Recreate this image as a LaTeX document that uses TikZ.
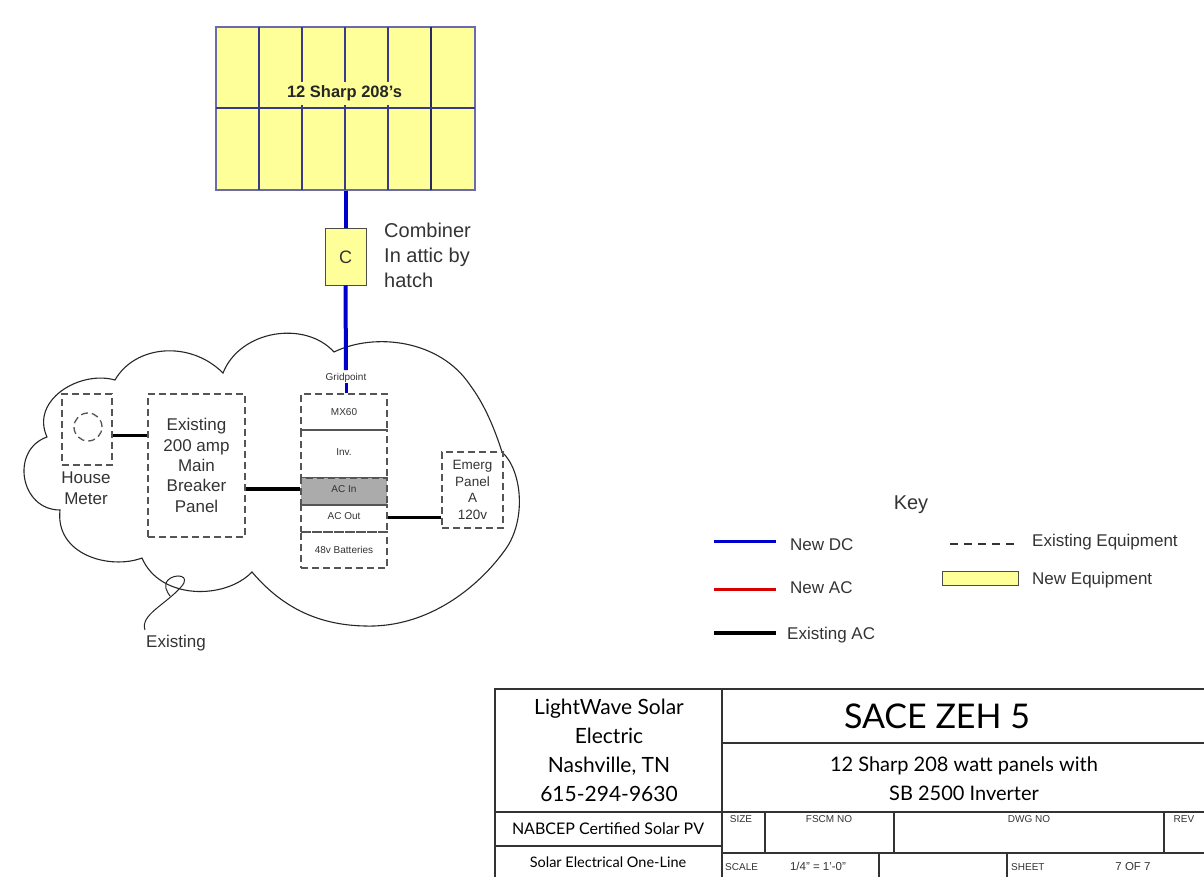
\documentclass[tikz,border=0pt]{standalone}
\usepackage{fontspec}
\setmainfont{Liberation Sans}
\newfontfamily\pap{Lato}
\definecolor{panelyellow}{HTML}{FFFF99}
\definecolor{paneledge}{HTML}{3A3A8C}
\definecolor{paneloutline}{HTML}{6A6AAE}
\definecolor{dc}{HTML}{0000CC}
\definecolor{dashcol}{HTML}{555555}
\definecolor{tcol}{HTML}{333333}
\tikzset{
 newbox/.style={draw=paneloutline,fill=panelyellow,line width=1.5pt,inner sep=0pt},
 exbox/.style={draw=dashcol,dash pattern=on 7pt off 4pt,line width=1.3pt,inner sep=0pt,align=center,text=tcol},
 stackbox/.style={exbox,minimum width=86pt,font=\fontsize{10}{12}\selectfont},
 lab/.style={inner sep=0pt,align=center,text=tcol,font=\fontsize{17}{21}\selectfont},
 keytxt/.style={inner sep=0pt,anchor=west,text=tcol,font=\fontsize{17}{20}\selectfont},
 dcw/.style={draw=dc,line width=4pt},
 acw/.style={draw=black,line width=3pt},
 tb/.style={draw=tcol,line width=1.1pt},
 pp/.style={inner sep=0pt,align=center,text=black},
 tiny/.style={inner sep=0pt,text=tcol,font=\fontsize{10}{12}\selectfont}
}
\begin{document}
\begin{tikzpicture}[x=1pt,y=-1pt]
\useasboundingbox (0,0) rectangle (1204,877);
% solar array
\node[newbox,minimum width=259pt,minimum height=163pt] (panels) at (345.5,108.5) {};
\foreach \x in {259,302,345,388} \draw[paneledge,line width=1.3pt] (\x,27)--(\x,190);
\draw[paneledge!70!black,line width=2.2pt] (431,27)--(431,190);
\draw[paneledge,line width=2pt] (216,108)--(475,108);
\node[inner sep=0pt,fill=panelyellow,minimum height=23pt,text=black!85,font=\bfseries\fontsize{16.5}{20}\selectfont] (arr) at (344.5,93.5) {12 Sharp 208's};
% combiner
\node[newbox,draw=black!70,line width=1pt,minimum width=41pt,minimum height=56pt,text=tcol,font=\fontsize{18}{22}\selectfont] (comb) at (345.5,257) {C};
\node[lab,align=left,anchor=west,font=\fontsize{20}{25}\selectfont] (combl) at (384,255) {Combiner\\In attic by\\hatch};
\draw[dcw] (panels.south)--(comb.north);
% cloud
\draw[draw=black!85,line width=1.1pt] (334,352)
 .. controls (375,332) and (440,340) .. (470,385)
 .. controls (485,405) and (495,430) .. (502,452)
 .. controls (522,470) and (527,520) .. (505,550)
 .. controls (480,585) and (430,628) .. (365,626)
 .. controls (315,625) and (280,605) .. (252,572)
 .. controls (225,600) and (160,600) .. (142,558)
 .. controls (110,570) and (55,555) .. (60,510)
 .. controls (20,510) and (10,450) .. (47,437)
 .. controls (30,400) and (80,370) .. (115,380)
 .. controls (135,345) and (190,340) .. (223,373)
 .. controls (240,330) and (305,320) .. (334,352);
% contents
\node[tiny] (grid) at (346,378) {Gridpoint};
\draw[dcw,shorten >=3pt] (comb.south)--(grid.north);
\node[exbox,minimum width=50pt,minimum height=71pt] (meter) at (87,429.5) {};
\node[exbox,circle,minimum size=28pt] (disc) at (88,427) {};
\node[lab] (meterl) at (86,488.5) {House\\Meter};
\node[exbox,minimum width=97pt,minimum height=143pt,font=\fontsize{17}{20.3}\selectfont] (main) at (196.5,465.5) {Existing\\200 amp\\Main\\Breaker\\Panel};
\node[stackbox,minimum height=36pt] (mx) at (344,412) {\raisebox{-4pt}{MX60}};
\node[stackbox,minimum height=48pt] (inv) at (344,454) {\raisebox{3pt}{Inv.}};
\node[stackbox,fill=black!33,minimum height=27pt,line width=2.2pt] (acin) at (344,491.5) {\raisebox{4pt}{AC In}};
\node[stackbox,minimum height=27pt] (acout) at (344,518.5) {\raisebox{4pt}{AC Out}};
\node[stackbox,minimum height=36pt] (batt) at (344,550) {48v Batteries};
\node[exbox,minimum width=61pt,minimum height=76pt,font=\fontsize{13.5}{16.5}\selectfont] (emerg) at (472.5,490) {Emerg\\Panel\\A\\120v};
\draw[dcw,line width=3pt] (grid.south)--(grid.south|-mx.north);
\draw[acw] (meter.east|-0,435)--(main.west|-0,435);
\draw[acw,line width=4pt] (main.east|-0,489)--(acin.west|-0,489);
\draw[acw] (acout.east|-0,517)--(emerg.west|-0,517);
% existing callout
\node[lab] (exl) at (176,643) {Existing};
\coordinate (cl) at (145,630);
\draw[black!85,line width=1pt] (cl) .. controls (140,615) and (165,605) .. (181,587)
 .. controls (192,575) and (175,573) .. (168,580)
 .. controls (163,585) and (167,592) .. (170,596);
% key
\node[inner sep=0pt,text=tcol,font=\fontsize{20}{24}\selectfont] (keyt) at (911,505) {Key};
\coordinate (k1a) at (714,541); \coordinate (k1b) at (776,541);
\coordinate (k2a) at (714,589); \coordinate (k2b) at (776,589);
\coordinate (k3a) at (714,633); \coordinate (k3b) at (776,633);
\coordinate (k4a) at (950,544); \coordinate (k4b) at (1018,544);
\draw[dcw,line width=3pt] (k1a)--(k1b);
\draw[draw=red!85!black,line width=3pt] (k2a)--(k2b);
\draw[acw,line width=3.5pt] (k3a)--(k3b);
\draw[black!80,line width=1.1pt,dash pattern=on 8pt off 6pt] (k4a)--(k4b);
\node[keytxt] at (790,545) {New DC};
\node[keytxt] at (790,588) {New AC};
\node[keytxt] at (787,635) {Existing AC};
\node[keytxt] at (1032,542) {Existing Equipment};
\node[newbox,draw=black!70,line width=1pt,minimum width=76pt,minimum height=14pt] (kbox) at (980,578) {};
\node[keytxt] at (1032,580) {New Equipment};
% title block
\draw[tb] (1204,689)--(495,689)--(495,877);
\draw[tb] (722,689)--(722,877);
\draw[tb] (722,743)--(1204,743);
\draw[tb] (495,812)--(1204,812);
\draw[tb,line width=1.5pt] (495,846)--(722,846);
\draw[tb] (722,853)--(1204,853);
\draw[tb] (765,812)--(765,853);
\draw[tb] (894,812)--(894,853);
\draw[tb] (1164,812)--(1164,853);
\draw[tb] (879,853)--(879,877);
\draw[tb] (1007,853)--(1007,877);
\node[pp,font=\pap\fontsize{21}{29}\selectfont] (co) at (609,750) {LightWave Solar\\Electric\\Nashville, TN\\615-294-9630};
\node[pp,font=\pap\fontsize{16}{20}\selectfont] (nab) at (608,829) {NABCEP Certified Solar PV};
\node[pp,font=\pap\fontsize{14.5}{18}\selectfont] (one) at (608,862) {Solar Electrical One-Line};
\node[pp,font=\pap\fontsize{34}{38}\selectfont] (title) at (937,716) {SACE ZEH 5};
\node[pp,font=\pap\fontsize{20}{29}\selectfont] (sub) at (964,779) {12 Sharp 208 watt panels with\\SB 2500 Inverter};
\node[tiny] at (741,819) {SIZE};
\node[tiny] at (829,819) {FSCM NO};
\node[tiny] at (1029,819) {DWG NO};
\node[tiny] at (1184,819) {REV};
\node[tiny,anchor=west] at (725,867) {SCALE};
\node[tiny,font=\fontsize{11.5}{13}\selectfont] at (818,866) {1/4" = 1'-0"};
\node[tiny,anchor=west] at (1011,867) {SHEET};
\node[tiny,font=\fontsize{11.5}{13}\selectfont] at (1133,867) {7 OF 7};
\end{tikzpicture}
\end{document}
